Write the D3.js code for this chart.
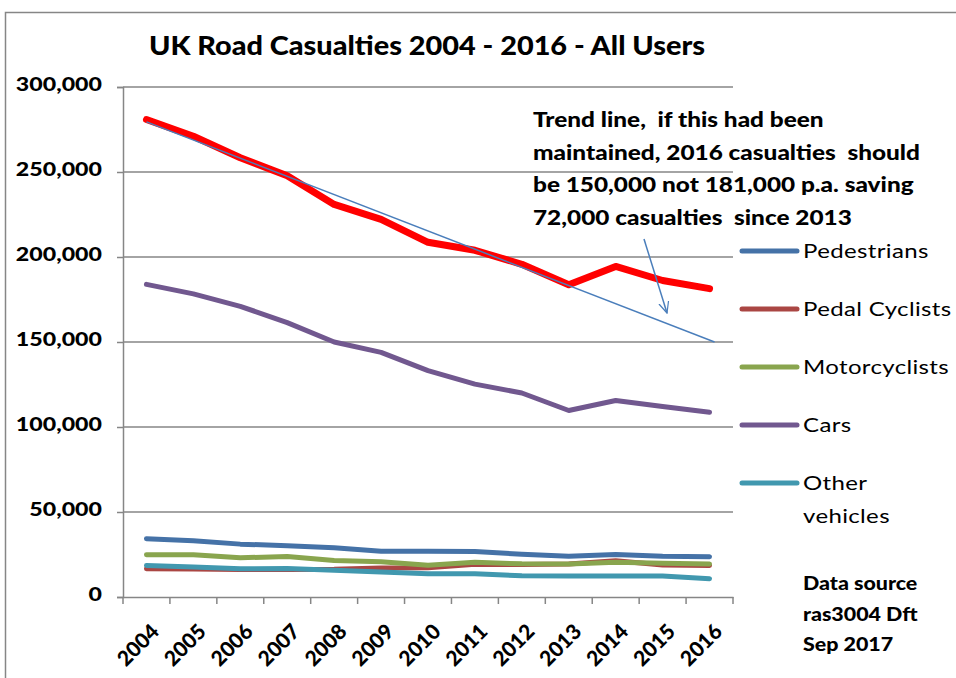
<!DOCTYPE html>
<html>
<head>
<meta charset="utf-8">
<script src="https://cdn.jsdelivr.net/npm/d3@7"></script>
<style>
body { margin: 0; background: #fff; }
text { font-family: Lato, "Open Sans", sans-serif; fill: #000; }
</style>
</head>
<body>
<script>
var years = ["2004","2005","2006","2007","2008","2009","2010","2011","2012","2013","2014","2015","2016"];
var allUsers = [280840, 271017, 258404, 247780, 230905, 222146, 208648, 203950, 195723, 183670, 194477, 186189, 181384];
var pedestrians = [34300, 33100, 31100, 30200, 29000, 26900, 26900, 26700, 25200, 24000, 25000, 24000, 23700];
var pedalCyclists = [16600, 16500, 16200, 16200, 16300, 17100, 17200, 19200, 19100, 19400, 21300, 18800, 18500];
var motorcyclists = [24900, 24800, 23100, 23800, 21500, 20700, 18700, 20400, 19500, 19400, 20400, 19900, 19400];
var cars = [183900, 178300, 171000, 161400, 150000, 143900, 133200, 125200, 120000, 109700, 115600, 112000, 108700];
var otherVehicles = [18500, 17600, 16600, 16700, 15700, 14700, 13700, 13700, 12500, 12400, 12400, 12300, 10800];
var trendYears = ["2004", "2016"];
var trendValues = [279500, 150000];
var yTicks = [0, 50000, 100000, 150000, 200000, 250000, 300000];
var seriesNames = ["Pedestrians", "Pedal Cyclists", "Motorcyclists", "Cars", "Other vehicles"];
var seriesValues = [pedestrians, pedalCyclists, motorcyclists, cars, otherVehicles];
var seriesColors = ["#4572A7", "#AA4643", "#89A54E", "#71588F", "#4198AF"];

var svgWidth = 956, svgHeight = 678;
var margin = {top: 87, left: 123, right: 223, bottom: 81};
var width = svgWidth - margin.left - margin.right;
var height = svgHeight - margin.top - margin.bottom;

var svg = d3.select("body").append("svg").attr("width", svgWidth).attr("height", svgHeight);
svg.append("rect").attr("x", 5.5).attr("y", 12.5).attr("width", 1000).attr("height", 1000)
  .attr("fill", "none").attr("stroke", "#868686").attr("stroke-width", 1.5);

// the original picture is stretched sideways, so text gets a small x scale
function put(sel, x, y, sx, rot) {
  return sel.attr("transform", `translate(${x}, ${y})` + (rot ? ` rotate(${rot})` : "") + ` scale(${sx}, 1)`);
}

put(svg.append("text"), 427, 55, 1.11).attr("text-anchor", "middle")
  .attr("font-size", "26px").style("font-weight", "900").text("UK Road Casualties 2004 - 2016 - All Users");

var chart = svg.append("g").attr("transform", `translate(${margin.left}, ${margin.top})`);

var x = d3.scaleBand().domain(years).range([0, width]);
var xc = d => x(d) + x.bandwidth() / 2;
var y = d3.scaleLinear().domain([0, 300000]).range([height, 0]);

// gridlines
chart.selectAll(".grid").data(yTicks.slice(1)).enter().append("line")
  .attr("x1", 0).attr("x2", width).attr("y1", d => y(d)).attr("y2", d => y(d))
  .attr("stroke", "#868686").attr("stroke-width", 1.5);

var yAxis = chart.append("g").call(d3.axisLeft(y).tickValues(yTicks).tickSize(6).tickFormat(""));
yAxis.select(".domain").attr("stroke", "#868686").attr("stroke-width", 1.5);
yAxis.selectAll(".tick line").attr("stroke", "#868686").attr("stroke-width", 1.5);
chart.selectAll(".ylab").data(yTicks).enter().append("text")
  .each(function (d) { put(d3.select(this), -21, y(d) + 4, 1.22); })
  .attr("text-anchor", "end").attr("font-size", "19px").style("font-weight", "900")
  .text(d => d3.format(",")(d));

var xAxis = chart.append("g").attr("transform", `translate(0, ${height})`)
  .call(d3.axisBottom(x).tickSize(0).tickFormat(""));
xAxis.select(".domain").attr("stroke", "#868686").attr("stroke-width", 1.5);
chart.selectAll(".xtick").data(d3.range(years.length + 1)).enter().append("line")
  .attr("x1", i => i * x.bandwidth()).attr("x2", i => i * x.bandwidth())
  .attr("y1", height).attr("y2", height + 7).attr("stroke", "#868686").attr("stroke-width", 1.5);
chart.selectAll(".xlab").data(years).enter().append("text")
  .attr("transform", d => `translate(${xc(d) + 14}, ${height + 36}) rotate(-45)`)
  .attr("text-anchor", "end").attr("font-size", "21px").style("font-weight", "900").text(d => d);

var line = d3.line().x((d, i) => xc(years[i])).y(d => y(d));

seriesValues.forEach(function (vals, k) {
  chart.append("path").datum(vals).attr("d", line).attr("fill", "none")
    .attr("stroke", seriesColors[k]).attr("stroke-width", 5)
    .attr("stroke-linejoin", "round").attr("stroke-linecap", "round");
});

chart.append("path").datum(allUsers).attr("d", line).attr("fill", "none")
  .attr("stroke", "#FF0000").attr("stroke-width", 7)
  .attr("stroke-linejoin", "round").attr("stroke-linecap", "round");

chart.append("line").attr("x1", xc(trendYears[0])).attr("y1", y(trendValues[0]))
  .attr("x2", xc(trendYears[1]) + 5).attr("y2", y(trendValues[1]))
  .attr("stroke", "#4A7EBB").attr("stroke-width", 1.5);

// annotation
var note = ["Trend line,  if this had been", "maintained, 2016 casualties  should",
  "be 150,000 not 181,000 p.a. saving", "72,000 casualties  since 2013"];
svg.selectAll(".note").data(note).enter().append("text")
  .each(function (d, i) { put(d3.select(this), 533, 127 + i * 32.5, 1.16); })
  .attr("font-size", "21px").style("font-weight", "900").style("white-space", "pre").text(d => d);

svg.append("defs").append("marker").attr("id", "arr").attr("viewBox", "0 0 12 12")
  .attr("refX", 11).attr("refY", 6).attr("markerWidth", 12).attr("markerHeight", 12)
  .attr("markerUnits", "userSpaceOnUse").attr("orient", "auto")
  .append("path").attr("d", "M0,1 L11,6 L0,11").attr("fill", "none")
  .attr("stroke", "#4A7EBB").attr("stroke-width", 1.2);
svg.append("line").attr("x1", 644).attr("y1", 239).attr("x2", 667).attr("y2", 313)
  .attr("stroke", "#4A7EBB").attr("stroke-width", 1.5).attr("marker-end", "url(#arr)");

// legend
var legend = svg.append("g").attr("transform", "translate(742, 251)");
seriesNames.forEach(function (name, k) {
  var g = legend.append("g").attr("transform", `translate(0, ${k * 58})`);
  g.append("line").attr("x1", 0).attr("x2", 55).attr("stroke", seriesColors[k])
    .attr("stroke-width", 5).attr("stroke-linecap", "round");
  var t = put(g.append("text"), 61, 7, 1.2).attr("font-size", "20px").attr("letter-spacing", "0.3px");
  if (name === "Other vehicles") {
    t.append("tspan").attr("x", 0).text("Other");
    t.append("tspan").attr("x", 0).attr("dy", 33).text("vehicles");
  } else {
    t.text(name);
  }
});

var src = ["Data source", "ras3004 Dft", "Sep 2017"];
svg.selectAll(".src").data(src).enter().append("text")
  .each(function (d, i) { put(d3.select(this), 803, 590 + i * 30.5, 1.19); })
  .attr("font-size", "18px").style("font-weight", "900").text(d => d);
</script>
</body>
</html>
